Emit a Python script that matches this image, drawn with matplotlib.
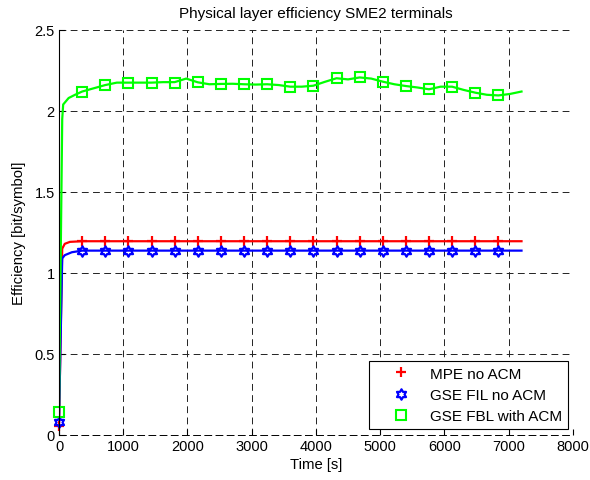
import numpy as np
import matplotlib.pyplot as plt
from matplotlib.path import Path

plt.rcParams['font.family'] = ['Liberation Sans', 'DejaVu Sans']

# Line data (time [s], efficiency)
t_red = [0, 50, 90, 170, 360, 7200]
y_red = [0.057, 1.15, 1.18, 1.192, 1.196, 1.196]

t_blue = [0, 50, 90, 200, 360, 7200]
y_blue = [0.082, 1.09, 1.11, 1.128, 1.138, 1.138]

t_green = [0, 50, 65, 150, 250, 360, 540, 720, 900, 1080, 1260, 1440, 1620, 1800,
           1980, 2160, 2340, 2520, 2700, 2880, 3060, 3240, 3420, 3600, 3780, 3960,
           4140, 4320, 4500, 4680, 4860, 5040, 5220, 5400, 5580, 5760, 5940, 6120,
           6300, 6480, 6660, 6840, 7020, 7200]
y_green = [0.14, 1.95, 2.04, 2.08, 2.10, 2.12, 2.14, 2.16, 2.175, 2.175, 2.175, 2.175,
           2.178, 2.178, 2.20, 2.177, 2.165, 2.167, 2.168, 2.165, 2.163, 2.165, 2.16,
           2.15, 2.15, 2.156, 2.18, 2.202, 2.195, 2.207, 2.20, 2.181, 2.165, 2.154,
           2.145, 2.134, 2.15, 2.15, 2.13, 2.113, 2.10, 2.096, 2.105, 2.12]

# Marker data (every 360 s)
t_mk = [0, 360, 720, 1080, 1440, 1800, 2160, 2520, 2880, 3240, 3600, 3960,
        4320, 4680, 5040, 5400, 5760, 6120, 6480, 6840]
mk_red = [0.057] + [1.196] * 19
mk_blue = [0.082] + [1.138] * 19
mk_green = [0.14, 2.12, 2.16, 2.175, 2.175, 2.175, 2.177, 2.167, 2.165, 2.165,
            2.15, 2.156, 2.202, 2.207, 2.181, 2.154, 2.134, 2.15, 2.113, 2.096]

hexagram = Path.unit_regular_star(6, 0.577)
dash = (0, (7, 4.5))

fig = plt.figure(figsize=(5.9, 4.81), dpi=100)
ax = fig.add_axes([0.1, 0.0936, 0.871, 0.842])

ax.plot(t_red, y_red, color='red', lw=1.6)
ax.plot(t_blue, y_blue, color='blue', lw=1.6)
ax.plot(t_green, y_green, color='#00ff00', lw=1.6)

# markers drawn separately (legend shows markers only)
ax.plot(t_mk, mk_red, ls='none', marker='+', ms=7, mew=1.6, color='red',
        label='MPE no ACM', clip_on=False)
ax.plot(t_mk, mk_blue, ls='none', marker=hexagram, ms=7.5, mew=1.6, mfc='none',
        color='blue', label='GSE FIL no ACM', clip_on=False)
ax.plot(t_mk, mk_green, ls='none', marker='s', ms=7, mew=1.5, mfc='none',
        color='#00ff00', label='GSE FBL with ACM', clip_on=False)

ax.set_xlim(0, 8000)
ax.set_ylim(0, 2.5)
ax.set_xticks(range(0, 8001, 1000))
ax.set_yticks([0, 0.5, 1, 1.5, 2, 2.5])
ax.set_yticklabels(['0', '0.5', '1', '1.5', '2', '2.5'])
ax.grid(True, color='#222222', ls=dash, lw=0.7)
ax.set_axisbelow(True)
ax.spines['top'].set_visible(False)
ax.spines['right'].set_visible(False)
ax.spines['bottom'].set_linestyle(dash)
ax.spines['bottom'].set_linewidth(0.7)
ax.spines['left'].set_linewidth(0.8)
ax.tick_params(direction='in', length=4, labelsize=10.5, width=0.8, pad=3)

ax.set_title('Physical layer efficiency SME2 terminals', fontsize=11, pad=9.5)
ax.set_xlabel('Time [s]', fontsize=10.7, labelpad=3)
ax.set_ylabel('Efficiency [bit/symbol]', fontsize=10.7, labelpad=6)

leg = ax.legend(loc='lower right', bbox_to_anchor=(0.990, 0.015), borderaxespad=0,
                fontsize=11, fancybox=False, framealpha=1, edgecolor='k',
                borderpad=0.38, handlelength=3.4, handletextpad=0.2,
                labelspacing=0.47)
leg.get_frame().set_linewidth(0.8)
leg.set_zorder(5)

fig.savefig('out.png', dpi=100)
